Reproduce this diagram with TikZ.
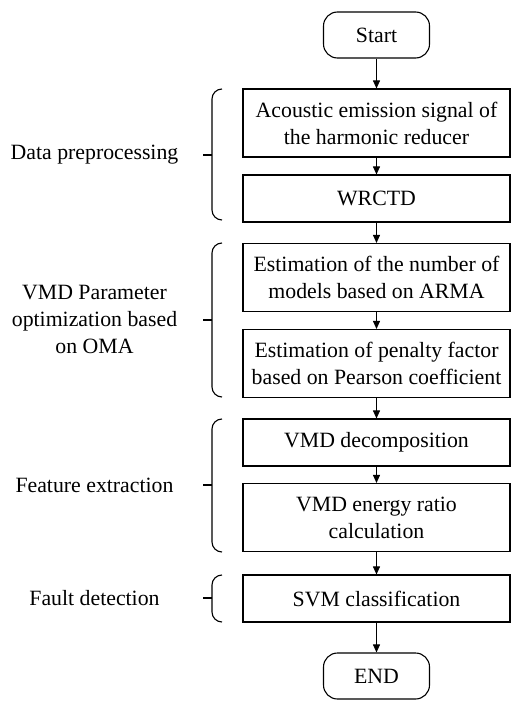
\documentclass[tikz,border=0pt]{standalone}
\usepackage{fontspec}
\setmainfont{Liberation Serif}
\usetikzlibrary{arrows.meta}

% left curly brace: top y, tip y, bottom y
\newcommand\drawbrace[3]{%
  \draw[bracestyle] (222,#1) to[out=180,in=90] (212,#1+10) -- (212,#3-10)
        to[out=-90,in=180] (222,#3);
  \draw[bracestyle] (212,#2) -- (203,#2);}

\begin{document}
\begin{tikzpicture}[x=1pt,y=-1pt,
  every node/.style={font=\fontsize{21.8}{27}\selectfont},
  stepbox/.style={draw, line width=1.1pt, minimum width=267pt, align=center, inner sep=0pt},
  onerow/.style={stepbox, minimum height=47pt},
  tworow/.style={stepbox, minimum height=68pt},
  terminal/.style={draw, line width=1.1pt, rounded corners=14pt, minimum width=106pt,
                   minimum height=46pt, inner sep=0pt},
  flow/.style={-{Triangle[length=8pt,width=7pt]}, line width=0.9pt},
  bracestyle/.style={line width=1.1pt},
  grouplabel/.style={align=center, inner sep=0pt}]
\useasboundingbox (0,0) rectangle (516,706);

% process chain
\node[terminal] (start) at (376.5,35) {Start};
\node[tworow] (ae) at (376.5,123) {Acoustic emission signal of\\the harmonic reducer};
\node[onerow] (wrctd) at (376.5,198.5) {WRCTD};
\node[tworow] (arma) at (376.5,277.5) {Estimation of the number of\\models based on ARMA};
\node[tworow] (pearson) at (376.5,363.5) {Estimation of penalty factor\\based on Pearson coefficient};
\node[onerow] (vmd) at (376.5,442.5) {VMD decomposition};
\node[tworow] (energy) at (376.5,517.5) {VMD energy ratio\\calculation};
\node[onerow] (svm) at (376.5,598.5) {SVM classification};
\node[terminal] (end) at (376.5,676) {END};

\draw[flow] (start) -- (ae);
\draw[flow] (ae) -- (wrctd);
\draw[flow] (wrctd) -- (arma);
\draw[flow] (arma) -- (pearson);
\draw[flow] (pearson) -- (vmd);
\draw[flow] (vmd) -- (energy);
\draw[flow] (energy) -- (svm);
\draw[flow] (svm) -- (end);

% stage braces and their labels
\drawbrace{89}{155}{220}
\drawbrace{243}{320}{397}
\drawbrace{419}{485}{552}
\drawbrace{575}{598}{622}

\node[grouplabel] (g1) at (94.5,155) {Data preprocessing};
\node[grouplabel] (g2) at (94.5,319) {VMD Parameter\\optimization based\\on OMA};
\node[grouplabel] (g3) at (94.5,485) {Feature extraction};
\node[grouplabel] (g4) at (94.5,598) {Fault detection};
\end{tikzpicture}
\end{document}
